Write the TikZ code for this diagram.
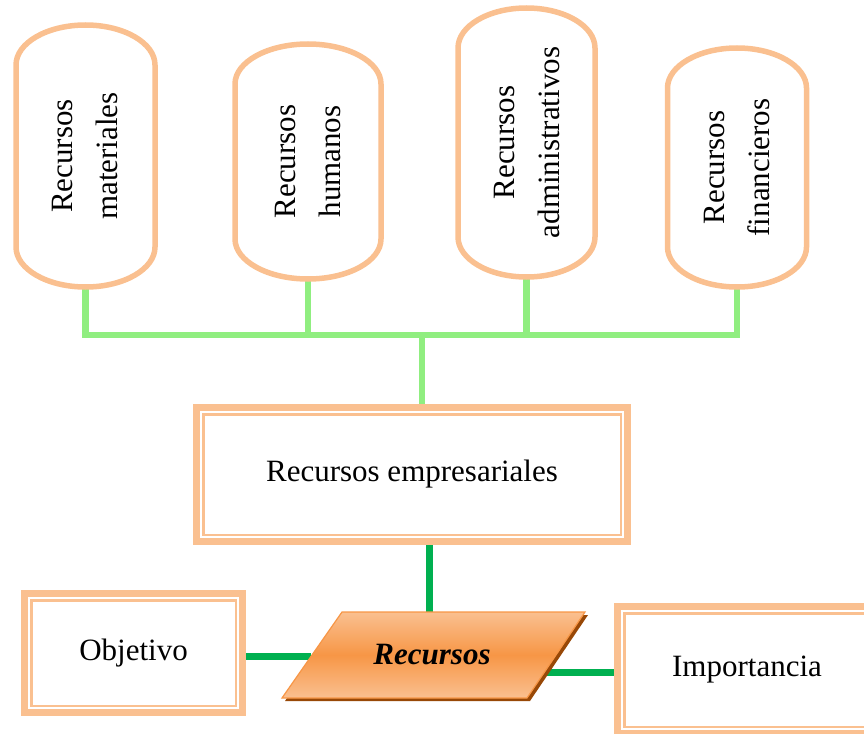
\documentclass[tikz,border=0pt]{standalone}
\usepackage{fontspec}
\setmainfont{Liberation Serif}
\usetikzlibrary{calc,backgrounds}

\definecolor{peach}{RGB}{250,192,144}
\definecolor{lightgrn}{RGB}{144,238,128}
\definecolor{darkgrn}{RGB}{0,176,80}
\definecolor{orangemid}{RGB}{247,150,70}
\definecolor{shadowbrown}{RGB}{152,72,7}

\tikzset{
  bigfont/.style={font=\fontsize{31}{45}\selectfont},
  capsulebox/.style={rectangle, draw=none, inner sep=0pt, outer sep=0pt},
  capsuleline/.style={draw=peach, fill=white, line width=5.5pt},
  captext/.style={bigfont, align=center, inner sep=0pt},
  framebox/.style={rectangle, draw=peach, fill=white, line width=7pt,
    inner sep=0pt, outer sep=0pt, bigfont},
  frameinner/.style={draw=peach, line width=2.5pt},
  lightlink/.style={draw=lightgrn, line width=6.5pt},
  darklink/.style={draw=darkgrn, line width=7pt},
}

% name, centre x, centre y, half width, half height, label
\newcommand\capsulenode[6]{%
  \node[capsulebox, minimum width=2*#4, minimum height=2*#5] (#1) at (#2,#3) {};
  \draw[capsuleline] ($(#1.north west)+(0,-40)$)
      arc[start angle=180, end angle=0, x radius=#4, y radius=40]
      -- ($(#1.south east)+(0,40)$)
      arc[start angle=0, end angle=-180, x radius=#4, y radius=40] -- cycle;
  \node[captext, rotate=90] (#1t) at (#1.center) {#6};
}

% name, centre x, centre y, width, height, label
\newcommand\framednode[6]{%
  \node[framebox, minimum width=#4, minimum height=#5] (#1) at (#2,#3) {#6};
  \draw[frameinner] ($(#1.north west)+(6.75,-6.75)$) rectangle ($(#1.south east)+(-6.75,6.75)$);
}

\begin{document}
\begin{tikzpicture}[x=1pt, y=1pt]
  \useasboundingbox (0,0) rectangle (864,-733);
  \clip (0,0) rectangle (864,-733);

  % resource capsules
  \capsulenode{c1}{85.5}{-156}{69.5}{131}{Recursos\\materiales}
  \capsulenode{c2}{308}{-161.5}{73}{117.5}{Recursos\\humanos}
  \capsulenode{c3}{526.5}{-142.5}{68.5}{134.5}{Recursos\\administrativos}
  \capsulenode{c4}{737}{-167.5}{69.5}{119.5}{Recursos\\financieros}

  % framed boxes
  \framednode{emp}{412}{-474.5}{431}{134}{Recursos empresariales}
  \framednode{obj}{133.5}{-653}{218}{119}{Objetivo}
  \framednode{imp}{747}{-670}{259}{127}{Importancia}

  % central parallelogram
  \coordinate (pTL) at (342,-612);
  \coordinate (pTR) at (585,-612);
  \coordinate (pBR) at (527,-698);
  \coordinate (pBL) at (282,-698);
  \fill[shadowbrown] ($(pTL)+(3,-3)$) -- ($(pTR)+(3,-3)$) -- ($(pBR)+(3,-3)$) -- ($(pBL)+(3,-3)$) -- cycle;
  \shade[top color=peach, bottom color=peach, middle color=orangemid]
    (pTL) -- (pTR) -- (pBR) -- (pBL) -- cycle;
  \draw[orangemid, line width=1.2pt] (pTL) -- (pTR) -- (pBR) -- (pBL) -- cycle;
  \node[font=\fontsize{31}{37}\selectfont\bfseries\itshape, inner sep=0pt] (rec) at (432,-655) {Recursos};

  \coordinate (recL) at ($(pBL)!0.477!(pTL)$);
  \coordinate (recR) at ($(pBR)!0.291!(pTR)$);
  \coordinate (hub) at (422,-335);
  \coordinate (drop) at ([xshift=17pt]emp.south);

  % connectors
  \begin{scope}[on background layer]
    \draw[lightlink] (c1.south) -- (c1.south |- hub) -- (c4.south |- hub) -- (c4.south);
    \draw[lightlink] (c2.south) -- (c2.south |- hub);
    \draw[lightlink] (c3.south) -- (c3.south |- hub);
    \draw[lightlink] (hub) -- (hub |- emp.north);
    \draw[darklink] (drop) -- (drop |- pTL);
    \draw[darklink] (obj.east |- recL) -- (recL);
    \draw[darklink] (recR) -- (imp.west |- recR);
  \end{scope}
\end{tikzpicture}
\end{document}
